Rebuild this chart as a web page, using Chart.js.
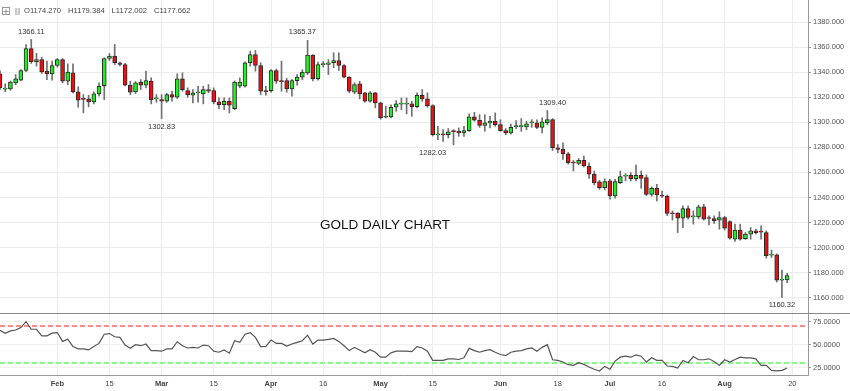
<!DOCTYPE html>
<html>
<head>
<meta charset="utf-8">
<script src="https://cdn.jsdelivr.net/npm/chart.js@4"></script>
<style>
  html, body { margin: 0; padding: 0; background: #fff; }
  #wrap { position: relative; width: 850px; height: 391px; }
  canvas { position: absolute; left: 0; }
  #chartPrice { top: 0; }
  #chartRsi { top: 313px; }
</style>
</head>
<body>
<div id="wrap">
  <canvas id="chartPrice" width="850" height="313"></canvas>
  <canvas id="chartRsi" width="850" height="78"></canvas>
</div>
<script>
// Trading days (2018, Good Friday skipped) + a few empty days on the right
const dates = [
  "01-17","01-18","01-19","01-22","01-23","01-24","01-25","01-26","01-29","01-30","01-31",
  "02-01","02-02","02-05","02-06","02-07","02-08","02-09","02-12","02-13","02-14","02-15","02-16","02-19","02-20","02-21","02-22","02-23","02-26","02-27","02-28",
  "03-01","03-02","03-05","03-06","03-07","03-08","03-09","03-12","03-13","03-14","03-15","03-16","03-19","03-20","03-21","03-22","03-23","03-26","03-27","03-28","03-29",
  "04-02","04-03","04-04","04-05","04-06","04-09","04-10","04-11","04-12","04-13","04-16","04-17","04-18","04-19","04-20","04-23","04-24","04-25","04-26","04-27","04-30",
  "05-01","05-02","05-03","05-04","05-07","05-08","05-09","05-10","05-11","05-14","05-15","05-16","05-17","05-18","05-21","05-22","05-23","05-24","05-25","05-28","05-29","05-30","05-31",
  "06-01","06-04","06-05","06-06","06-07","06-08","06-11","06-12","06-13","06-14","06-15","06-18","06-19","06-20","06-21","06-22","06-25","06-26","06-27","06-28","06-29",
  "07-02","07-03","07-04","07-05","07-06","07-09","07-10","07-11","07-12","07-13","07-16","07-17","07-18","07-19","07-20","07-23","07-24","07-25","07-26","07-27","07-30","07-31",
  "08-01","08-02","08-03","08-06","08-07","08-08","08-09","08-10","08-13","08-14","08-15","08-16","08-17","08-20","08-21","08-22","08-23"
];

const openPrices = [
  1338.7,1326.5,1326.7,1331.5,1333.6,1341.3,1358.9,1348.3,1350.1,1340.8,
  1338.7,1345.3,1350.1,1332.8,1339.5,1324.3,1318.7,1318.7,1316.3,1322.7,
  1329.3,1350.9,1352.8,1347.5,1346.1,1329.6,1324.3,1332.0,1329.6,1332.8,
  1318.7,1318.1,1316.8,1322.1,1320.0,1334.7,1325.3,1321.6,1323.5,1322.7,
  1326.1,1325.3,1316.3,1314.1,1316.8,1310.9,1328.8,1328.8,1347.5,1354.1,
  1345.3,1325.3,1325.3,1341.3,1332.8,1333.3,1326.7,1333.3,1336.0,1339.5,
  1353.6,1334.9,1346.0,1346.1,1347.5,1349.3,1345.3,1336.0,1324.0,1330.7,
  1323.5,1316.8,1323.5,1315.5,1304.0,1304.3,1312.0,1314.5,1314.5,1314.7,
  1312.5,1321.6,1318.7,1313.3,1290.0,1290.1,1290.1,1292.8,1292.8,1291.5,
  1293.3,1304.3,1301.6,1297.6,1299.5,1300.8,1298.1,1293.3,1291.5,1296.5,
  1296.5,1296.3,1299.5,1299.5,1296.0,1299.6,1302.2,1279.7,1278.4,1274.9,
  1267.7,1267.2,1269.6,1265.1,1258.5,1252.4,1247.9,1253.2,1241.2,1251.8,
  1257.1,1257.7,1255.0,1257.7,1255.8,1242.5,1247.3,1241.2,1241.2,1227.2,
  1227.4,1223.4,1231.1,1224.5,1224.5,1232.5,1223.4,1223.2,1221.9,1224.0,
  1220.8,1206.7,1213.9,1207.2,1210.7,1213.4,1212.6,1212.0,1194.0,1194.3,
  1174.1,1174.27
];
const highPrices = [
  1341.0,1330.7,1333.0,1338.1,1342.0,1362.1,1366.11,1355.0,1352.0,1348.8,
  1348.8,1351.0,1350.9,1346.7,1346.7,1328.3,1322.1,1321.6,1324.3,1331.5,
  1351.5,1354.9,1362.1,1348.0,1347.0,1332.8,1332.5,1334.1,1340.8,1335.5,
  1322.1,1322.1,1323.0,1324.8,1338.7,1339.5,1327.5,1326.1,1328.8,1328.8,
  1330.1,1327.5,1319.5,1319.5,1319.5,1333.0,1335.5,1348.3,1356.8,1357.3,
  1347.5,1328.8,1342.0,1342.5,1348.8,1335.0,1334.0,1338.1,1342.0,1365.37,
  1354.0,1348.0,1348.5,1350.1,1355.5,1355.5,1346.0,1336.5,1331.5,1332.8,
  1324.0,1324.5,1324.0,1316.0,1312.8,1314.0,1317.3,1319.5,1319.5,1316.8,
  1323.5,1326.1,1323.5,1314.0,1296.8,1294.1,1295.0,1294.1,1295.5,1296.8,
  1306.7,1308.0,1306.1,1306.1,1304.8,1307.5,1302.0,1295.0,1298.5,1301.3,
  1303.0,1300.8,1302.1,1302.0,1303.6,1309.4,1303.0,1282.3,1283.7,1276.0,
  1269.6,1271.0,1273.0,1267.7,1261.1,1253.7,1255.0,1254.5,1254.5,1261.1,
  1259.0,1259.8,1265.9,1261.1,1258.0,1248.5,1250.5,1245.2,1242.0,1229.3,
  1228.0,1233.3,1233.3,1229.3,1234.0,1234.6,1225.3,1225.3,1228.7,1225.0,
  1221.4,1218.7,1218.7,1212.0,1216.0,1214.7,1217.3,1213.4,1198.0,1195.0,
  1182.0,1179.384
];
const lowPrices = [
  1326.0,1324.3,1325.5,1330.1,1333.0,1340.5,1347.0,1344.8,1339.0,1334.1,
  1333.6,1344.0,1331.5,1330.1,1323.5,1312.0,1307.5,1312.3,1314.7,1320.8,
  1318.1,1349.3,1346.1,1345.0,1329.0,1322.1,1323.0,1326.1,1327.5,1314.7,
  1316.0,1302.83,1316.0,1316.8,1319.0,1324.8,1320.0,1315.5,1316.0,1314.7,
  1323.5,1314.7,1310.9,1310.1,1307.5,1310.0,1327.5,1328.0,1344.8,1340.8,
  1322.1,1321.6,1324.0,1331.0,1324.8,1324.0,1320.8,1329.6,1334.0,1338.0,
  1333.0,1333.6,1344.0,1338.1,1343.5,1341.3,1335.5,1323.5,1322.7,1318.7,
  1316.0,1316.0,1311.5,1302.5,1303.5,1303.5,1308.8,1310.0,1306.7,1304.8,
  1311.5,1316.8,1312.0,1289.0,1286.1,1284.8,1287.5,1282.03,1288.8,1288.8,
  1292.8,1300.8,1296.0,1292.8,1295.5,1296.8,1292.8,1290.1,1290.5,1295.0,
  1292.8,1294.0,1296.0,1295.0,1291.6,1297.9,1277.5,1275.7,1270.4,1266.6,
  1261.1,1266.0,1264.3,1255.3,1250.0,1246.5,1246.0,1238.6,1239.5,1251.0,
  1253.2,1253.2,1253.2,1247.3,1241.5,1241.0,1237.2,1240.0,1225.5,1221.9,
  1212.0,1216.0,1222.6,1218.7,1223.0,1222.0,1218.1,1219.2,1214.7,1214.0,
  1206.7,1204.9,1205.9,1206.5,1206.7,1210.7,1206.7,1191.5,1192.1,1172.5,
  1160.32,1172.002
];
const closePrices = [
  1327.5,1327.0,1332.0,1334.7,1341.3,1358.9,1348.3,1350.1,1340.3,1338.7,
  1345.3,1350.1,1332.8,1340.0,1324.3,1317.6,1318.3,1316.3,1322.7,1328.8,
  1350.9,1352.8,1347.5,1346.1,1329.6,1324.0,1331.5,1329.6,1333.3,1318.1,
  1318.9,1316.8,1322.1,1320.0,1334.7,1326.1,1322.1,1323.5,1323.7,1326.1,
  1324.8,1316.3,1314.1,1316.8,1313.6,1332.0,1332.0,1347.5,1354.1,1345.3,
  1324.8,1324.5,1341.3,1332.8,1332.5,1326.7,1333.3,1336.0,1340.0,1353.6,
  1334.9,1346.1,1346.3,1347.5,1349.3,1345.3,1336.0,1324.8,1330.1,1322.7,
  1316.8,1323.5,1315.5,1303.5,1304.3,1312.0,1314.7,1314.8,1314.7,1312.5,
  1321.6,1318.7,1313.3,1290.1,1290.3,1290.0,1292.3,1292.5,1291.5,1293.3,
  1304.3,1301.6,1297.6,1299.5,1300.8,1298.1,1293.3,1291.5,1296.0,1296.8,
  1296.8,1298.7,1299.7,1296.0,1300.4,1302.2,1279.7,1278.4,1274.9,1267.7,
  1267.5,1269.6,1265.1,1258.5,1251.8,1247.9,1252.6,1241.2,1252.6,1256.6,
  1257.3,1255.0,1257.7,1255.3,1242.5,1247.3,1242.0,1241.0,1227.2,1227.0,
  1223.4,1231.1,1224.0,1224.5,1232.5,1222.6,1223.2,1221.4,1224.0,1215.5,
  1207.5,1213.9,1206.7,1210.7,1213.4,1212.0,1212.4,1193.5,1194.0,1174.1,
  1174.4,1177.662
];
const rsiValues = [
  65.7,62.5,65.0,66.0,68.6,75.0,66.8,66.8,59.6,59.6,
  62.5,63.2,53.6,56.0,47.9,45.4,45.4,44.3,47.9,51.4,
  61.4,62.1,58.6,57.9,49.6,46.0,50.0,48.9,50.7,43.6,
  43.6,42.9,45.4,45.4,53.2,48.9,46.4,47.1,46.4,49.6,
  48.9,42.9,41.8,44.3,40.7,54.3,52.5,61.4,63.2,57.9,
  47.9,48.2,55.0,51.4,51.4,48.6,50.7,52.5,54.3,60.4,
  50.7,55.0,55.0,55.7,56.8,53.6,48.9,43.6,47.1,44.3,
  41.1,44.6,41.8,36.4,36.4,41.1,42.9,42.9,42.9,42.5,
  47.9,46.4,42.9,32.9,32.9,32.9,34.6,34.6,33.9,35.7,
  46.0,43.6,41.8,43.6,44.6,41.8,39.3,38.2,41.8,42.9,
  43.6,45.4,46.4,42.9,47.1,50.0,33.6,32.9,31.1,28.2,
  27.5,30.4,28.6,25.7,23.2,21.4,26.4,23.2,32.1,36.4,
  37.5,36.4,38.9,37.5,31.1,35.7,32.9,32.9,26.8,26.4,
  24.6,32.9,30.4,37.1,33.6,33.6,34.6,31.8,27.5,33.6,
  31.1,33.9,36.4,35.7,35.7,34.6,27.5,27.5,22.1,21.4,
  22.1,24.6
];

// Axis ticks
const priceTicks = [1160, 1180, 1200, 1220, 1240, 1260, 1280, 1300, 1320, 1340, 1360, 1380];
const rsiTicks = [25, 50, 75];
const rsiLevels = [70, 30];
const tickDates = ["02-01","02-15","03-01","03-15","04-02","04-16","05-01","05-15","06-01","06-18","07-02","07-16","08-01","08-20"];
const tickTexts = ["Feb","15","Mar","15","Apr","16","May","15","Jun","18","Jul","16","Aug","20"];

// High / low labels on the chart
const markDates = ["01-25","04-10","03-01","05-15","06-15","08-16"];
const markValues = [1366.11, 1365.37, 1302.83, 1282.03, 1309.40, 1160.32];
const markAbove = [true, true, false, false, true, false];

const FONT = "'Liberation Sans', Arial, sans-serif";
Chart.defaults.font.family = FONT;
Chart.defaults.font.size = 7.5;
Chart.defaults.color = "#555";

// Only keep grid lines / labels at the chosen dates
const keepDateTicks = (axis) => {
  axis.ticks = tickDates.map((d) => ({ value: dates.indexOf(d) }));
};

// Fix axis size and drop the label overflow padding
const fixWidth = (w) => (s) => {
  s.width = w;
  s.paddingTop = 0;
  s.paddingBottom = 0;
};
const fixHeight = (h) => (s) => {
  s.height = h;
  s.paddingLeft = 0;
  s.paddingRight = 0;
};

const wickData = openPrices.map((o, i) => [lowPrices[i], highPrices[i]]);
const bodyData = openPrices.map((o, i) => [o, closePrices[i]]);
const bodyColors = openPrices.map((o, i) => (closePrices[i] >= o ? "#22ec22" : "#e81010"));

// Header, title and high/low labels
const pricePlugin = {
  id: "priceText",
  afterDraw: (chart) => {
    const ctx = chart.ctx;
    const xs = chart.scales.x;
    const ys = chart.scales.y;
    const last = closePrices.length - 1;
    ctx.save();

    // small icons top left
    ctx.strokeStyle = "#999";
    ctx.lineWidth = 1;
    ctx.strokeRect(2.5, 7.5, 7, 7);
    ctx.beginPath();
    ctx.moveTo(6, 9); ctx.lineTo(6, 14);
    ctx.moveTo(3.5, 11.5); ctx.lineTo(8.5, 11.5);
    ctx.stroke();
    ctx.fillStyle = "#c8c8c8";
    ctx.fillRect(15, 8, 5, 7);
    ctx.fillStyle = "#e8e8e8";
    ctx.fillRect(17, 8, 1, 7);

    // OHLC of last candle
    const parts = [
      "O" + openPrices[last].toFixed(3),
      "H" + highPrices[last].toFixed(3),
      "L" + lowPrices[last].toFixed(3),
      "C" + closePrices[last].toFixed(3),
    ];
    ctx.font = "7.6px " + FONT;
    ctx.fillStyle = "#444";
    ctx.textBaseline = "middle";
    ctx.textAlign = "left";
    let px = 24;
    parts.forEach((t) => {
      ctx.fillText(t, px, 11);
      px += ctx.measureText(t).width + 7;
    });

    // title
    ctx.font = "13.5px " + FONT;
    ctx.fillStyle = "#111";
    ctx.fillText("GOLD DAILY CHART", 320, 225);

    // high / low labels
    ctx.font = "7.5px " + FONT;
    ctx.fillStyle = "#333";
    ctx.textAlign = "center";
    markDates.forEach((d, i) => {
      const x = xs.getPixelForValue(dates.indexOf(d));
      const y = ys.getPixelForValue(markValues[i]) + (markAbove[i] ? -8 : 8);
      ctx.fillText(markValues[i].toFixed(2), x, y);
    });
    ctx.restore();
  },
};

// RSI reference lines and panel separator
const rsiPlugin = {
  id: "rsiLines",
  beforeDatasetsDraw: (chart) => {
    const ctx = chart.ctx;
    const area = chart.chartArea;
    const ys = chart.scales.y;
    const colors = ["#ff8a8a", "#88f888"];
    ctx.save();
    ctx.lineWidth = 2;
    ctx.setLineDash([5, 3]);
    rsiLevels.forEach((lv, i) => {
      const y = Math.round(ys.getPixelForValue(lv));
      ctx.strokeStyle = colors[i];
      ctx.beginPath();
      ctx.moveTo(area.left, y);
      ctx.lineTo(area.right, y);
      ctx.stroke();
    });
    ctx.restore();
  },
  afterDraw: (chart) => {
    const ctx = chart.ctx;
    ctx.save();
    ctx.strokeStyle = "#8a8a8a";
    ctx.lineWidth = 1;
    ctx.beginPath();
    ctx.moveTo(0, 0.5);
    ctx.lineTo(chart.width, 0.5);
    ctx.stroke();
    ctx.restore();
  },
};

// Candles: wick + body as floating bars
new Chart(document.getElementById("chartPrice"), {
  type: "bar",
  data: {
    labels: dates,
    datasets: [
      {
        label: "Body",
        data: bodyData,
        backgroundColor: bodyColors,
        borderColor: "#2a2a2a",
        borderWidth: 1,
        borderSkipped: false,
        barThickness: 4,
        minBarLength: 1,
        grouped: false,
        order: 1,
      },
      {
        label: "Wick",
        data: wickData,
        backgroundColor: "#707070",
        borderWidth: 0,
        barThickness: 1,
        grouped: false,
        order: 2,
      },
    ],
  },
  options: {
    responsive: false,
    animation: false,
    layout: { padding: 0, autoPadding: false },
    plugins: { legend: { display: false }, tooltip: { enabled: false } },
    scales: {
      x: {
        offset: false,
        grid: { offset: false, color: "#ececec", drawTicks: false },
        border: { display: false },
        ticks: { display: false, autoSkip: false },
        afterBuildTicks: keepDateTicks,
        afterFit: fixHeight(0),
      },
      y: {
        position: "right",
        min: 1147.8,
        max: 1397.6,
        afterBuildTicks: (s) => { s.ticks = priceTicks.map((v) => ({ value: v })); },
        afterFit: fixWidth(42),
        grid: { color: "#ececec", tickColor: "#999", tickLength: 3 },
        border: { color: "#999" },
        ticks: { callback: (v) => v.toFixed(3), padding: 2, color: "#555" },
      },
    },
  },
  plugins: [pricePlugin],
});

// RSI panel
new Chart(document.getElementById("chartRsi"), {
  type: "line",
  data: {
    labels: dates,
    datasets: [
      {
        label: "RSI",
        data: rsiValues,
        borderColor: "#555",
        borderWidth: 1.2,
        pointRadius: 0,
        tension: 0,
      },
    ],
  },
  options: {
    responsive: false,
    animation: false,
    layout: { padding: 0, autoPadding: false },
    plugins: { legend: { display: false }, tooltip: { enabled: false } },
    scales: {
      x: {
        offset: false,
        grid: { offset: false, color: "#ececec", drawTicks: false },
        border: { color: "#999" },
        ticks: {
          autoSkip: false,
          maxRotation: 0,
          padding: 4,
          color: "#444",
          callback: (v, i) => tickTexts[i],
          font: (c) => ({
            family: FONT,
            size: 7.5,
            weight: /^[A-Z]/.test(tickTexts[c.index] || "") ? "bold" : "normal",
          }),
        },
        afterBuildTicks: keepDateTicks,
        afterFit: fixHeight(16),
      },
      y: {
        position: "right",
        min: 17,
        max: 84.5,
        afterBuildTicks: (s) => { s.ticks = rsiTicks.map((v) => ({ value: v })); },
        afterFit: fixWidth(42),
        grid: { color: "#f0f0f0", tickColor: "#999", tickLength: 3 },
        border: { color: "#999" },
        ticks: { callback: (v) => v.toFixed(4), padding: 2, color: "#555" },
      },
    },
  },
  plugins: [rsiPlugin],
});
</script>
</body>
</html>
